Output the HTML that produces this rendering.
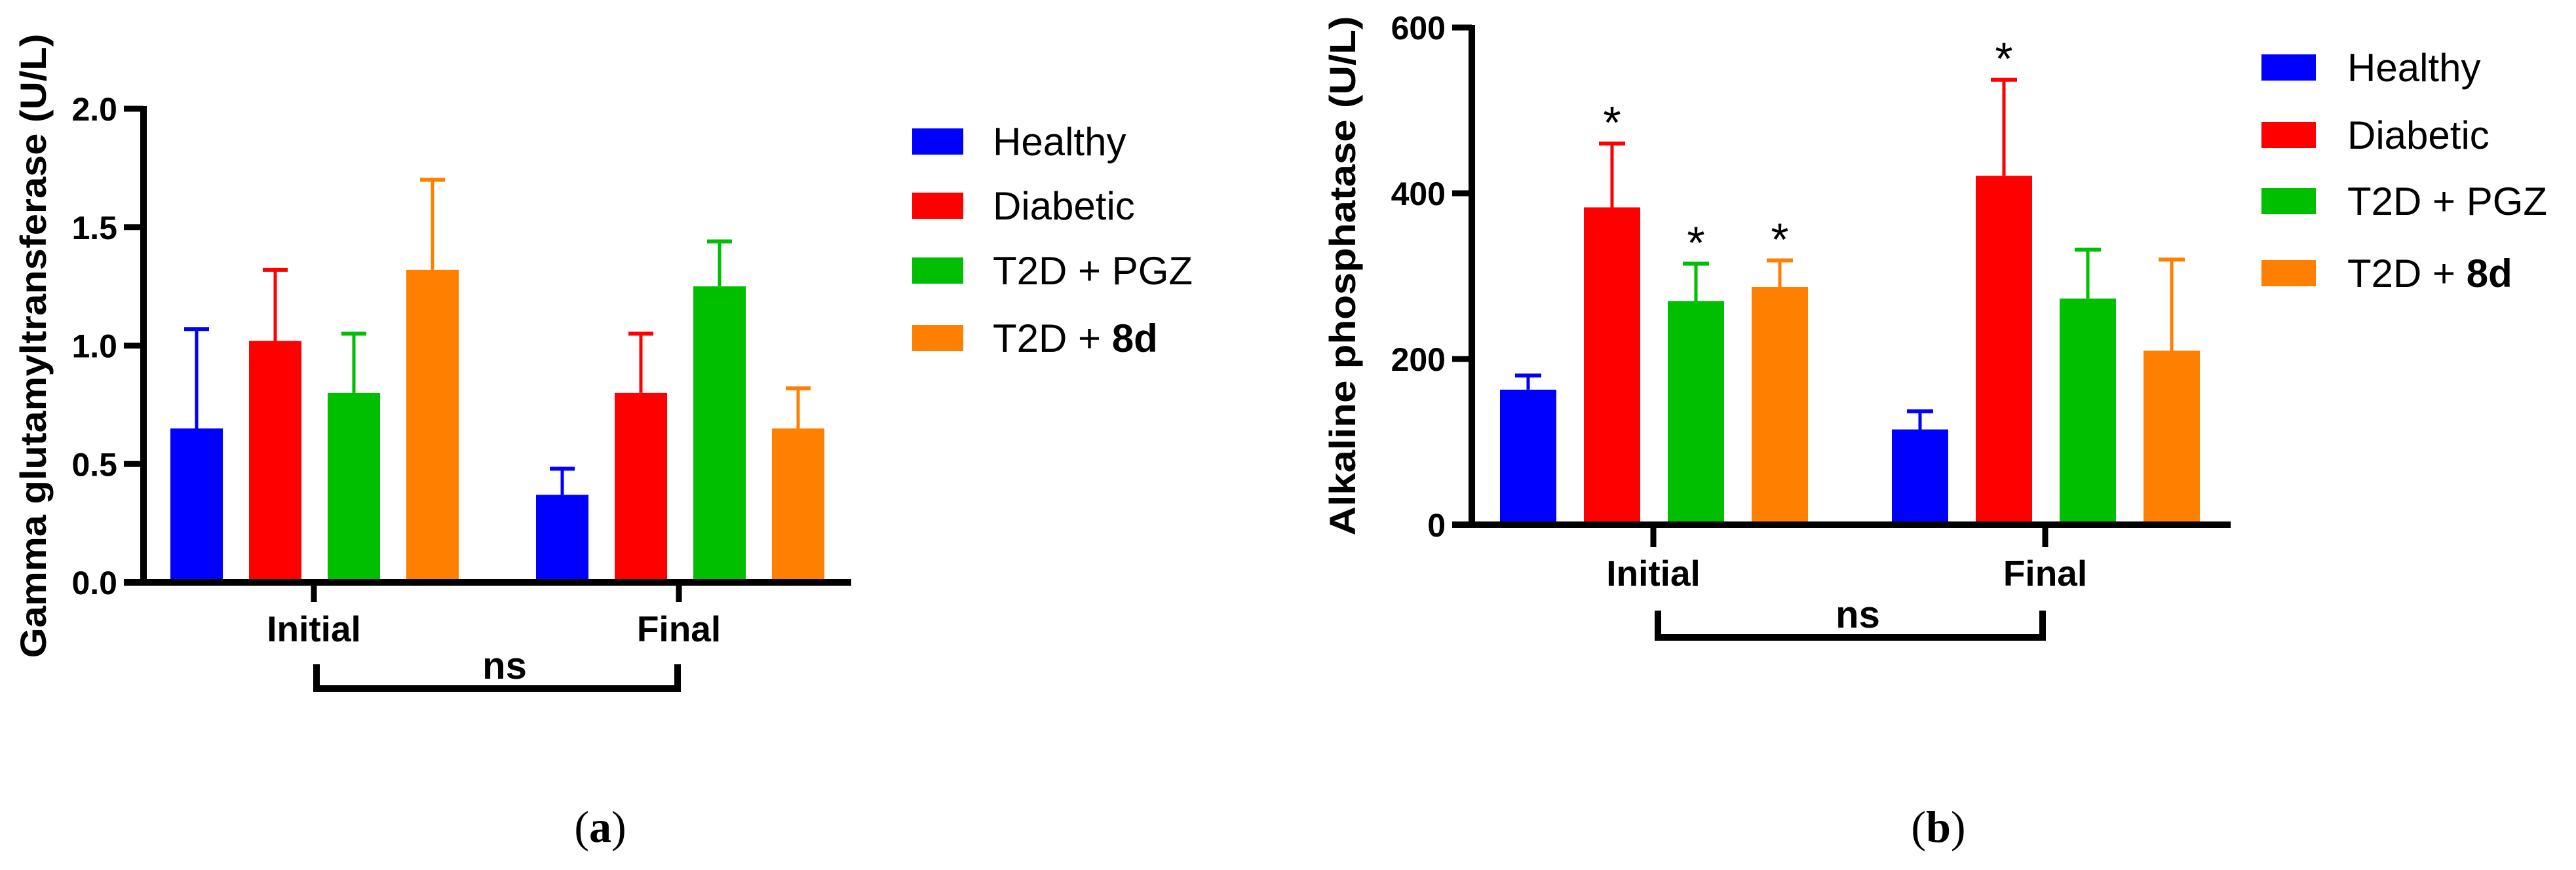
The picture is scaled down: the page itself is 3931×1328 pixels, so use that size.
<!DOCTYPE html>
<html><head><meta charset="utf-8"><style>
html,body{margin:0;padding:0;background:#fff;}
svg{display:block;font-family:"Liberation Sans",Arial,sans-serif;}
</style></head><body>
<svg id="fig" width="3931" height="1328" viewBox="0 0 3931 1328" xmlns="http://www.w3.org/2000/svg">
<g id="chartA"></g>
<g id="chartB"></g>
<text x="916" y="1285" font-family="Liberation Serif,serif" font-size="68" text-anchor="middle">(<tspan font-weight="bold">a</tspan>)</text>
<text x="2958" y="1285" font-family="Liberation Serif,serif" font-size="68" text-anchor="middle">(<tspan font-weight="bold">b</tspan>)</text>
</svg>
<script>
const NS="http://www.w3.org/2000/svg";
const seriesNames=["Healthy","Diabetic","T2D + PGZ","T2D + 8d"];
const colors=["#0000ff","#ff0000","#00bf00","#ff8000"];
const groups=["Initial","Final"];
// Chart A data
const aTicks=[0,0.5,1.0,1.5,2.0];
const aTickLabels=["0.0","0.5","1.0","1.5","2.0"];
const aMeans=[[0.65,1.02,0.80,1.32],[0.37,0.80,1.25,0.65]];
const aErrTop=[[1.07,1.32,1.05,1.70],[0.48,1.05,1.44,0.82]];
const aStars=[[false,false,false,false],[false,false,false,false]];
// Chart B data
const bTicks=[0,200,400,600];
const bTickLabels=["0","200","400","600"];
const bMeans=[[163,383,270,287],[115,421,273,210]];
const bErrTop=[[180,460,315,319],[137,537,332,320]];
const bStars=[[false,true,true,true],[false,true,false,false]];

function el(parent,tag,attrs){const e=document.createElementNS(NS,tag);for(const k in attrs)e.setAttribute(k,attrs[k]);parent.appendChild(e);return e;}

function drawChart(g,cfg){
  const y=v=>cfg.y0-(v-cfg.vmin)/(cfg.vmax-cfg.vmin)*(cfg.y0-cfg.y1);
  // bars
  cfg.means.forEach((grp,gi)=>{
    grp.forEach((m,si)=>{
      const x=cfg.groupStart[gi]+si*cfg.pitch;
      const r=el(g,"rect",{x:x,y:y(m),width:cfg.bw,height:cfg.y0-y(m),fill:colors[si]});
      
      
      const cx=x+cfg.bw/2, et=y(cfg.err[gi][si]);
      const l=el(g,"line",{x1:cx,x2:cx,y1:y(m),y2:et,stroke:colors[si],"stroke-width":5});
      
      
      const c=el(g,"line",{x1:cx-cfg.cap,x2:cx+cfg.cap,y1:et,y2:et,stroke:colors[si],"stroke-width":6});
      
      
      if(cfg.stars[gi][si]){
        const s=el(g,"text",{x:cx,y:et-8,"font-size":70,"text-anchor":"middle"});
        s.textContent="*";
        
        
      }
    });
  });
  // axes
  const ya=el(g,"line",{x1:cfg.x0,x2:cfg.x0,y1:cfg.y1-4,y2:cfg.y0+5,stroke:"#000","stroke-width":10});
  
  const xa=el(g,"line",{x1:cfg.x0-30,x2:cfg.xEnd,y1:cfg.y0,y2:cfg.y0,stroke:"#000","stroke-width":10});
  
  cfg.ticks.forEach((t,i)=>{
    const tl=el(g,"line",{x1:cfg.x0-30,x2:cfg.x0,y1:y(t),y2:y(t),stroke:"#000","stroke-width":9});
    
    const tx=el(g,"text",{x:cfg.x0-40,y:y(t)+18,"font-size":50,"font-weight":"bold","text-anchor":"end"});
    tx.textContent=cfg.tickLabels[i];
    
  });
  groups.forEach((gname,gi)=>{
    const gx=cfg.groupTick[gi];
    const tl=el(g,"line",{x1:gx,x2:gx,y1:cfg.y0,y2:cfg.tickBottom,stroke:"#000","stroke-width":9});
    
    const tx=el(g,"text",{x:gx,y:cfg.catBase,"font-size":55,"font-weight":"bold","text-anchor":"middle"});
    tx.textContent=gname;
    
  });
  // ns bracket
  const b=el(g,"path",{d:`M${cfg.br[0]},${cfg.br[2]} L${cfg.br[0]},${cfg.br[3]} L${cfg.br[1]},${cfg.br[3]} L${cfg.br[1]},${cfg.br[2]}`,fill:"none",stroke:"#000","stroke-width":10});
  
  const ns=el(g,"text",{x:cfg.nsX,y:cfg.br[3]-15,"font-size":58,"font-weight":"bold","text-anchor":"middle"});
  ns.textContent="ns";
  
  // y title
  const yt=el(g,"text",{x:0,y:0,"font-size":56,"font-weight":"bold","text-anchor":"middle",transform:`translate(${cfg.titleX},${cfg.titleY}) rotate(-90)`,textLength:cfg.titleLen,lengthAdjust:"spacingAndGlyphs"});
  yt.textContent=cfg.title;
  
  // legend
  seriesNames.forEach((n,i)=>{
    const r=el(g,"rect",{x:cfg.legX,y:cfg.legY[i]-41,width:cfg.legW,height:40,fill:colors[i]});
    
    const t=el(g,"text",{x:cfg.legTX,y:cfg.legY[i],"font-size":60});
    if(i===3){t.appendChild(document.createTextNode("T2D + "));const s=el(t,"tspan",{"font-weight":"bold"});s.textContent="8d";}
    else t.textContent=n;
    
  });
}
drawChart(document.getElementById("chartA"),{
  vmin:0,vmax:2,y0:889,y1:166,x0:219,xEnd:1299,ticks:aTicks,tickLabels:aTickLabels,
  means:aMeans,err:aErrTop,stars:aStars,groupStart:[260,818],pitch:120,bw:80,cap:19,
  groupTick:[479,1036],tickBottom:919,catBase:979,br:[483,1034,1014,1051],nsX:770,
  title:"Gamma glutamyltransferase (U/L)",titleX:70,titleY:528,titleLen:953,
  legX:1392,legW:78,legTX:1515,legY:[237,335,434,537]
});
drawChart(document.getElementById("chartB"),{
  vmin:0,vmax:600,y0:801,y1:42,x0:2246,xEnd:3404,ticks:bTicks,tickLabels:bTickLabels,
  means:bMeans,err:bErrTop,stars:bStars,groupStart:[2289,2887],pitch:128,bw:86,cap:20,
  groupTick:[2523,3121],tickBottom:835,catBase:894,br:[2530,3117,932,973],nsX:2835,
  title:"Alkaline phosphatase (U/L)",titleX:2068,titleY:421,titleLen:793,
  legX:3451,legW:83,legTX:3582,legY:[124,227,328,438]
});
</script>
</body></html>
